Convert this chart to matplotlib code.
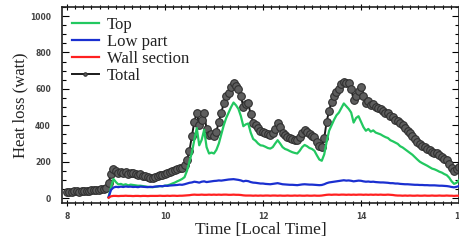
"""
Heat loss by part of the surface over one day, with the total on top.
"""

import matplotlib
matplotlib.use("Agg")
import matplotlib.pyplot as plt
from matplotlib.ticker import MultipleLocator
import numpy as np

# ---- data (0.05 h sampling) ----
t_start_total = 8.0
t_start_parts = 8.85
step = 0.05

total = [
    35, 36, 34, 37, 38, 36, 39, 40, 41, 40,
    43, 44, 46, 47, 50, 52, 55, 85, 130, 158,
    150, 140, 145, 138, 142, 135, 140, 136, 132, 128,
    130, 124, 120, 115, 112, 110, 116, 122, 128, 125,
    135, 140, 145, 150, 155, 160, 165, 168, 180, 210,
    260, 340, 420, 470, 400, 430, 465, 380, 345, 350,
    340, 365, 420, 470, 520, 560, 580, 610, 630, 615,
    600, 560, 500, 515, 520, 460, 415, 400, 385, 370,
    365, 360, 350, 345, 355, 380, 410, 390, 360, 345,
    335, 330, 325, 320, 318, 335, 360, 375, 365, 350,
    340, 335, 310, 285, 280, 330, 420, 480, 530, 560,
    585, 600, 625, 640, 630, 635, 600, 540, 560, 590,
    610, 560, 525, 535, 510, 515, 500, 495, 490, 480,
    470, 465, 450, 445, 430, 425, 410, 400, 385, 370,
    355, 340, 325, 310, 295, 285, 280, 270, 262, 255,
    250, 245, 235, 225, 215, 208, 190, 165, 150, 158,
    172,
]

top = [
    5, 60, 105, 88, 75, 78, 72, 76, 70, 74,
    72, 70, 68, 68, 66, 64, 62, 60, 60, 62,
    64, 66, 65, 68, 70, 74, 80, 85, 92, 98,
    105, 115, 150, 200, 250, 320, 385, 290, 320, 375,
    280, 245, 250, 245, 265, 300, 350, 400, 440, 470,
    500, 525, 510, 490, 450, 395, 405, 410, 360, 325,
    315, 300, 290, 288, 282, 275, 272, 280, 300, 318,
    300, 280, 270, 265, 258, 252, 248, 245, 260, 280,
    292, 285, 275, 270, 260, 235, 212, 205, 240, 310,
    370, 400, 430, 455, 470, 495, 520, 505, 490, 470,
    415, 440, 450, 420, 390, 370, 380, 365, 372, 360,
    355, 350, 342, 335, 330, 318, 312, 305, 298, 285,
    278, 268, 258, 248, 238, 225, 212, 200, 192, 185,
    178, 170, 162, 158, 152, 145, 140, 132, 126, 112,
    92, 78, 84, 98,
]

low_part = [
    5, 45, 58, 62, 60, 63, 61, 64, 62, 63,
    61, 62, 60, 63, 62, 61, 60, 62, 61, 63,
    64, 66, 65, 68, 67, 69, 70, 71, 72, 74,
    73, 76, 80, 84, 86, 90, 88, 85, 90, 92,
    88, 90, 92, 94, 95, 97, 96, 98, 100, 102,
    103, 104, 102, 100, 97, 92, 95, 93, 88, 85,
    84, 82, 80, 80, 78, 77, 76, 78, 80, 82,
    79, 76, 75, 74, 73, 73, 72, 71, 73, 75,
    76, 75, 74, 74, 73, 72, 71, 72, 76, 82,
    86, 88, 90, 92, 94, 96, 98, 96, 97, 95,
    92, 94, 96, 95, 92, 90, 91, 89, 90, 88,
    87, 86, 86, 85, 84, 82, 82, 80, 80, 78,
    77, 76, 76, 75, 74, 73, 73, 72, 72, 71,
    71, 70, 70, 70, 69, 68, 68, 67, 66, 64,
    61, 59, 62, 66,
]

wall_section = [
    2, 10, 12, 12, 11, 12, 12, 13, 12, 12,
    11, 12, 12, 11, 12, 12, 11, 12, 12, 12,
    12, 13, 12, 12, 13, 12, 13, 13, 12, 13,
    13, 14, 15, 16, 18, 19, 18, 18, 19, 18,
    18, 19, 18, 19, 18, 19, 18, 19, 19, 18,
    18, 19, 18, 18, 17, 15, 14, 14, 14, 13,
    14, 13, 14, 13, 14, 14, 13, 14, 14, 13,
    14, 13, 13, 14, 13, 13, 14, 13, 14, 13,
    13, 14, 13, 13, 14, 13, 13, 14, 16, 18,
    19, 18, 19, 19, 18, 19, 19, 18, 19, 18,
    19, 18, 19, 19, 18, 19, 18, 19, 18, 19,
    18, 19, 18, 18, 19, 18, 17, 15, 14, 14,
    13, 14, 13, 14, 13, 13, 14, 13, 13, 14,
    13, 13, 14, 13, 13, 14, 13, 13, 14, 13,
    13, 12, 13, 13,
]

x_ticks = [8, 10, 12, 14, 16]
y_ticks = [0, 200, 400, 600, 800, 1000]

t_total = t_start_total + step * np.arange(len(total))
t_parts = t_start_parts + step * np.arange(len(top))

serif = ["Liberation Serif", "DejaVu Serif"]

fig = plt.figure(figsize=(4.6, 2.42), dpi=100)
ax = fig.add_axes([62 / 460, 39 / 242, 397 / 460, 196 / 242])

ax.plot(t_parts, top, color="#22c860", lw=1.6, label="Top", zorder=3)
ax.plot(t_parts, low_part, color="#1a2fd0", lw=1.6, label="Low part", zorder=3)
ax.plot(t_parts, wall_section, color="#ff2020", lw=1.6, label="Wall section", zorder=3)
ax.plot(t_total, total, color="#1a1a1a", lw=1.4, marker="o", ms=5.5,
        mfc="#5e5e5e", mec="#303030", mew=0.8, label="Total", zorder=2)

ax.set_xlim(7.9, 16.0)
ax.set_ylim(-27, 1050)
ax.set_xticks(x_ticks)
ax.set_yticks(y_ticks)
ax.xaxis.set_minor_locator(MultipleLocator(1 / 6))
ax.yaxis.set_minor_locator(MultipleLocator(50))

ax.tick_params(which="both", direction="in", top=True, right=True,
               labelsize=5.5, labelcolor="#444444", width=0.8)
ax.tick_params(which="major", length=5)
ax.tick_params(which="minor", length=3)
ax.tick_params(axis="y", pad=8)
ax.tick_params(axis="x", which="both", bottom=True, direction="inout", pad=4)
for lab in ax.get_xticklabels() + ax.get_yticklabels():
    lab.set_fontweight("bold")
for sp in ax.spines.values():
    sp.set_linewidth(1.2)
    sp.set_color("#222222")

ax.set_xlabel("Time [Local Time]", family=serif, fontsize=12.5, color="#222222", labelpad=1)
ax.set_ylabel("Heat loss (watt)", family=serif, fontsize=12, color="#222222", labelpad=1)

# legend: small dot on the Total handle, as in the reference
leg = ax.legend(loc="upper left", frameon=False, prop={"family": serif, "size": 12},
                handlelength=1.6, labelspacing=0.05, handletextpad=0.5,
                borderaxespad=0.5, borderpad=0.1, markerscale=0.45)
for text in leg.get_texts():
    text.set_color("#222222")

fig.savefig("out.png", dpi=100)
